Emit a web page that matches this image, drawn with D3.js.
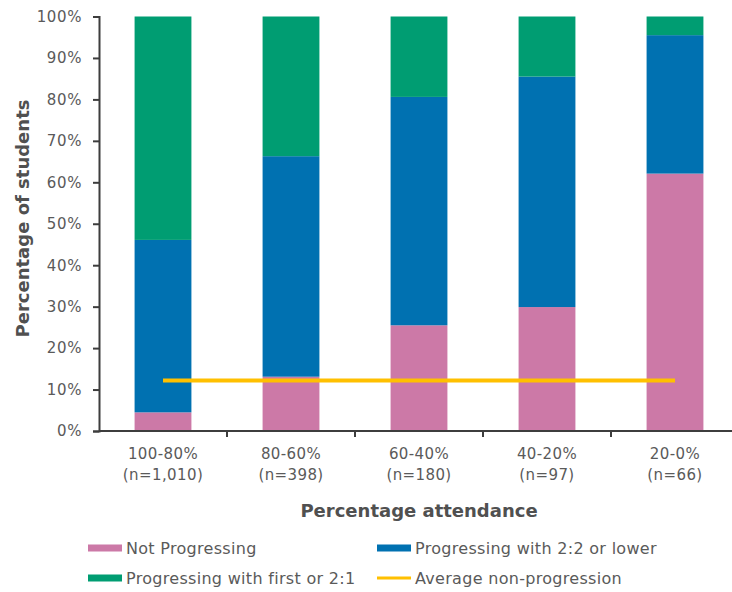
<!DOCTYPE html>
<html>
<head>
<meta charset="utf-8">
<script src="https://cdn.jsdelivr.net/npm/d3@7"></script>
<style>
  html, body { margin: 0; padding: 0; background: #fff; }
  svg { display: block; }
  text { font-family: "DejaVu Sans", Verdana, sans-serif; }
</style>
</head>
<body>
<svg id="chart" width="732" height="592"></svg>
<script>
// Attendance bands and cohort sizes
const categories = ["100-80%", "80-60%", "60-40%", "40-20%", "20-0%"];
const cohortSizes = ["(n=1,010)", "(n=398)", "(n=180)", "(n=97)", "(n=66)"];

// Share of students in each outcome (percent), stacked bottom to top
const notProgressing = [4.5, 13.1, 25.5, 29.9, 62.1];
const progressingLower = [41.6, 53.2, 55.1, 55.6, 33.4];
const progressingFirst = [53.9, 33.7, 19.4, 14.5, 4.5];
const averageNonProgression = 12.2;

const yTicks = [0, 10, 20, 30, 40, 50, 60, 70, 80, 90, 100];

const seriesNames = ["Not Progressing", "Progressing with 2:2 or lower", "Progressing with first or 2:1"];
const seriesColors = ["#cc79a7", "#0071b1", "#009d72"];
const lineName = "Average non-progression";
const lineColor = "#ffc000";

const rows = categories.map((c, i) => ({
  cat: c,
  s0: notProgressing[i],
  s1: progressingLower[i],
  s2: progressingFirst[i]
}));

const svg = d3.select("#chart");
const plotLeft = 99, plotRight = 739, plotTop = 16.5, plotBottom = 431;

const x = d3.scaleBand().domain(categories).range([plotLeft, plotRight])
  .paddingInner(0.556).paddingOuter(0.278);
const y = d3.scaleLinear().domain([0, 100]).range([plotBottom, plotTop]);

const stack = d3.stack().keys(["s0", "s1", "s2"]);
const layers = stack(rows);

// Stacked bars
svg.append("g").selectAll("g")
  .data(layers)
  .join("g")
  .attr("fill", (d, i) => seriesColors[i])
  .selectAll("rect")
  .data(d => d)
  .join("rect")
  .attr("x", d => x(d.data.cat))
  .attr("width", x.bandwidth())
  .attr("y", d => y(d[1]))
  .attr("height", d => y(d[0]) - y(d[1]));

// Average non-progression line across the band centres
const avgLine = d3.line()
  .x(d => x(d) + x.bandwidth() / 2)
  .y(() => y(averageNonProgression));
svg.append("path")
  .datum([categories[0], categories[categories.length - 1]])
  .attr("d", avgLine)
  .attr("fill", "none")
  .attr("stroke", lineColor)
  .attr("stroke-width", 4);

const axisColor = "#3d3d3d";
const labelColor = "#5a5a5a";

// Y axis
const yAxis = svg.append("g")
  .attr("transform", `translate(${plotLeft},0)`)
  .call(d3.axisLeft(y).tickValues(yTicks).tickFormat(d => d + "%").tickSize(6).tickPadding(11));
yAxis.select(".domain").attr("stroke", axisColor).attr("stroke-width", 2);
yAxis.selectAll(".tick line").attr("stroke", axisColor).attr("stroke-width", 2);
yAxis.selectAll(".tick text")
  .attr("fill", labelColor)
  .style("font-size", "15px")
  .style("letter-spacing", "0.6px");

// X axis: labels at band centres, tick marks at band boundaries
const xAxis = svg.append("g")
  .attr("transform", `translate(0,${plotBottom})`)
  .call(d3.axisBottom(x).tickSize(0).tickPadding(14));
xAxis.select(".domain").remove();
xAxis.selectAll(".tick text")
  .attr("fill", labelColor)
  .style("font-size", "15px")
  .style("letter-spacing", "0.4px")
  .each(function(d, i) {
    const t = d3.select(this);
    t.text(null);
    t.append("tspan").attr("x", 0).attr("dy", "0.9em").text(d);
    t.append("tspan").attr("x", 0).attr("dy", "1.45em").text(cohortSizes[i]);
  });

svg.append("line")
  .attr("x1", plotLeft).attr("x2", 732)
  .attr("y1", plotBottom).attr("y2", plotBottom)
  .attr("stroke", axisColor).attr("stroke-width", 2);

const gap = x.step() * x.paddingInner();
svg.append("g").selectAll("line")
  .data(categories.slice(0, -1))
  .join("line")
  .attr("x1", d => x(d) + x.bandwidth() + gap / 2)
  .attr("x2", d => x(d) + x.bandwidth() + gap / 2)
  .attr("y1", plotBottom).attr("y2", plotBottom + 6)
  .attr("stroke", axisColor).attr("stroke-width", 2);

// Axis titles
svg.append("text")
  .attr("x", (plotLeft + plotRight) / 2)
  .attr("y", 517)
  .attr("text-anchor", "middle")
  .attr("fill", "#505050")
  .style("font-size", "18px")
  .style("font-weight", "bold")
  .text("Percentage attendance");

svg.append("text")
  .attr("transform", "translate(29,218.5) rotate(-90)")
  .attr("text-anchor", "middle")
  .attr("fill", "#505050")
  .style("font-size", "18px")
  .style("font-weight", "bold")
  .text("Percentage of students");

// Legend
const legendItems = [
  { name: seriesNames[0], color: seriesColors[0], kind: "rect", x: 88, y: 548 },
  { name: seriesNames[1], color: seriesColors[1], kind: "rect", x: 377, y: 548 },
  { name: seriesNames[2], color: seriesColors[2], kind: "rect", x: 88, y: 578 },
  { name: lineName, color: lineColor, kind: "line", x: 377, y: 578 }
];
const legend = svg.append("g").selectAll("g")
  .data(legendItems)
  .join("g")
  .attr("transform", d => `translate(${d.x},${d.y})`);
legend.filter(d => d.kind === "rect").append("rect")
  .attr("x", 0).attr("y", -3.5).attr("width", 34).attr("height", 7)
  .attr("fill", d => d.color);
legend.filter(d => d.kind === "line").append("line")
  .attr("x1", 0).attr("x2", 34).attr("y1", 0).attr("y2", 0)
  .attr("stroke", d => d.color).attr("stroke-width", 3);
legend.append("text")
  .attr("x", 38).attr("y", 0).attr("dy", "0.35em")
  .attr("fill", labelColor)
  .style("font-size", "16px")
  .style("letter-spacing", "0.3px")
  .text(d => d.name);
</script>
</body>
</html>
